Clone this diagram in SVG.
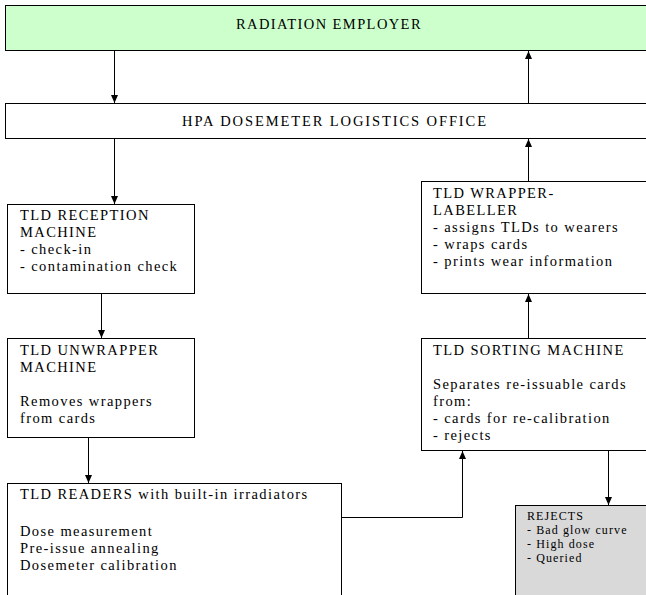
<svg xmlns="http://www.w3.org/2000/svg" width="646" height="595" viewBox="0 0 646 595">
<style>
.box{stroke:#000;stroke-width:1;fill:#fff}
.t{font-family:'Liberation Serif',serif;font-size:14.5px;letter-spacing:1.4px;fill:#000}
.c{text-anchor:middle}
.s{font-family:'Liberation Serif',serif;font-size:12px;letter-spacing:1.1px;fill:#000}
.ln{stroke:#000;stroke-width:1;fill:none;marker-end:url(#ah)}
</style>
<defs>
<marker id="ah" markerUnits="userSpaceOnUse" markerWidth="8" markerHeight="8" refX="8" refY="4" orient="auto">
<path d="M0,0.5 L8,4 L0,7.5 z" fill="#000"/>
</marker>
</defs>
<rect width="646" height="595" fill="#fff"/>
<g id="employer">
<rect class="box" x="5.5" y="5.5" width="660" height="45" style="fill:#ccffcc"/>
<text class="t c" x="329" y="29">RADIATION EMPLOYER</text>
</g>
<g id="hpa">
<rect class="box" x="5.5" y="103.5" width="660" height="35"/>
<text class="t c" x="335" y="126" style="letter-spacing:1.9px">HPA DOSEMETER LOGISTICS OFFICE</text>
</g>
<g id="reception">
<rect class="box" x="7.5" y="204.5" width="187" height="89"/>
<text class="t" x="20" y="220">TLD RECEPTION</text>
<text class="t" x="20" y="237">MACHINE</text>
<text class="t" x="20" y="254">- check-in</text>
<text class="t" x="20" y="271">- contamination check</text>
</g>
<g id="unwrapper">
<rect class="box" x="7.5" y="338.5" width="187" height="99"/>
<text class="t" x="20" y="355">TLD UNWRAPPER</text>
<text class="t" x="20" y="372">MACHINE</text>
<text class="t" x="20" y="406">Removes wrappers</text>
<text class="t" x="20" y="423">from cards</text>
</g>
<g id="readers">
<rect class="box" x="7.5" y="483.5" width="334" height="130"/>
<text class="t" x="20" y="499">TLD READERS with built-in irradiators</text>
<text class="t" x="20" y="536">Dose measurement</text>
<text class="t" x="20" y="553">Pre-issue annealing</text>
<text class="t" x="20" y="570">Dosemeter calibration</text>
</g>
<g id="wrapper">
<rect class="box" x="421.5" y="181.5" width="240" height="112"/>
<text class="t" x="433" y="198">TLD WRAPPER-</text>
<text class="t" x="433" y="215">LABELLER</text>
<text class="t" x="433" y="232">- assigns TLDs to wearers</text>
<text class="t" x="433" y="249">- wraps cards</text>
<text class="t" x="433" y="266">- prints wear information</text>
</g>
<g id="sorting">
<rect class="box" x="421.5" y="338.5" width="240" height="112"/>
<text class="t" x="433" y="355">TLD SORTING MACHINE</text>
<text class="t" x="433" y="389">Separates re-issuable cards</text>
<text class="t" x="433" y="406">from:</text>
<text class="t" x="433" y="423">- cards for re-calibration</text>
<text class="t" x="433" y="440">- rejects</text>
</g>
<g id="rejects">
<rect class="box" x="515.5" y="505.5" width="150" height="110" style="fill:#d9d9d9"/>
<text class="s" x="527" y="520">REJECTS</text>
<text class="s" x="527" y="534">- Bad glow curve</text>
<text class="s" x="527" y="548">- High dose</text>
<text class="s" x="527" y="562">- Queried</text>
</g>
<g id="connectors">
<path class="ln" d="M114.5,50.5 V103"/>
<path class="ln" d="M528.5,103.5 V51"/>
<path class="ln" d="M114.5,138.5 V204"/>
<path class="ln" d="M528.5,181.5 V139"/>
<path class="ln" d="M101.5,293.5 V338"/>
<path class="ln" d="M88.5,437.5 V483"/>
<path class="ln" d="M341.5,517.5 H462.5 V451"/>
<path class="ln" d="M528.5,338.5 V294"/>
<path class="ln" d="M608.5,450.5 V505"/>
</g>
</svg>
